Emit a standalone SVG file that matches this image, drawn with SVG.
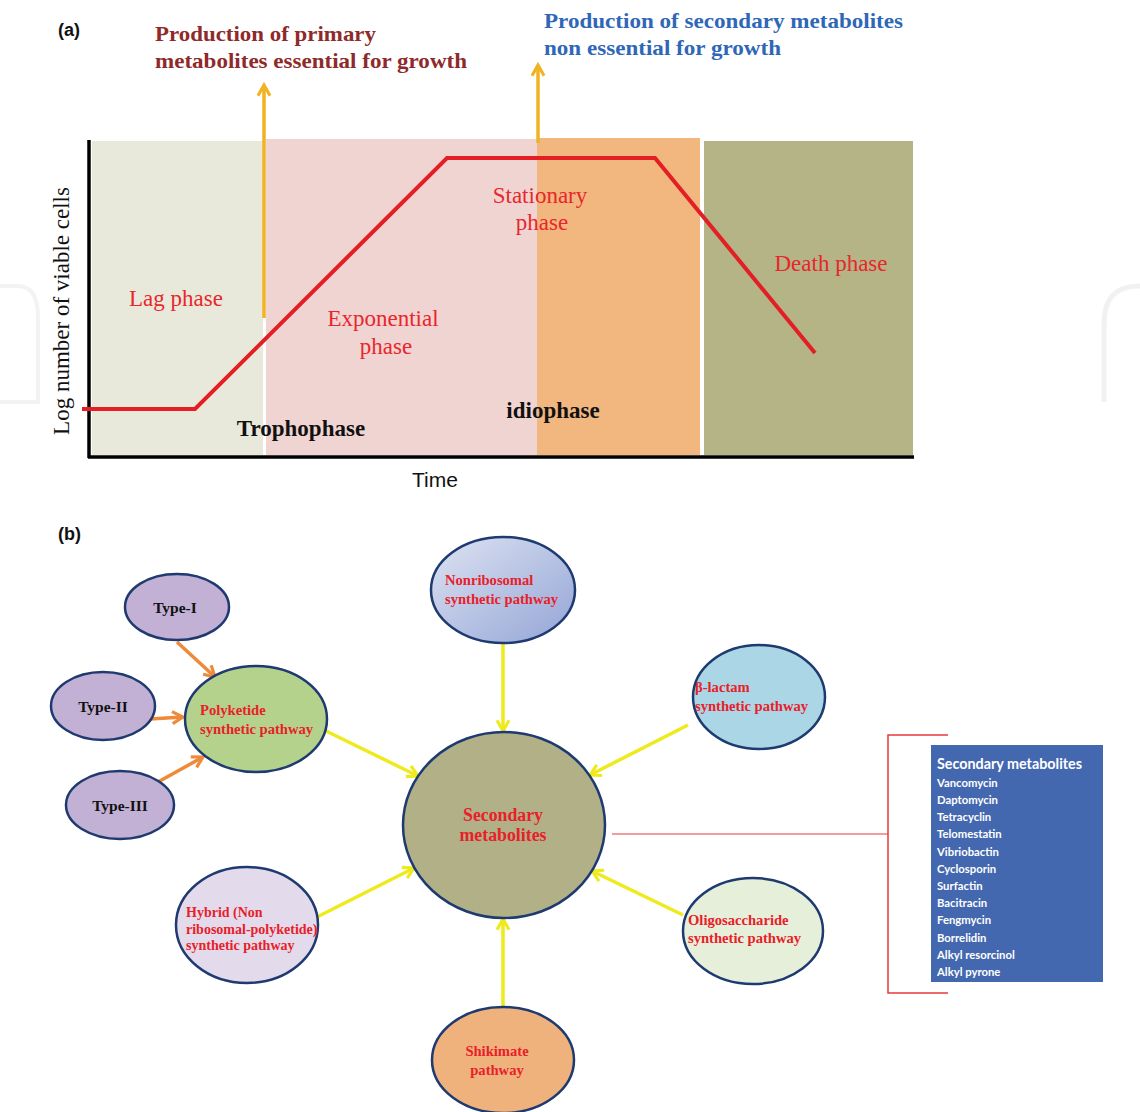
<svg xmlns="http://www.w3.org/2000/svg" width="1140" height="1112" viewBox="0 0 1140 1112">
<defs>
<style>
.lbl{font-family:"Liberation Sans",Arial,sans-serif;font-weight:bold;font-size:18px;fill:#111}
.ph{font-family:"Liberation Serif","Times New Roman",serif;font-size:23px;fill:#E8262C}
.bk{font-family:"Liberation Serif","Times New Roman",serif;font-size:23px;font-weight:bold;fill:#111}
.tt{font-family:"Liberation Serif","Times New Roman",serif;font-size:22px;font-weight:bold}
.nd{stroke:#1E3A70;stroke-width:2.5}
.nt{font-family:"Liberation Serif","Times New Roman",serif;font-size:14.6px;font-weight:bold;fill:#E8202A}
.sm{font-size:14px}
.big{font-size:18.5px}
.ty{font-family:"Liberation Serif","Times New Roman",serif;font-size:15.5px;font-weight:bold;fill:#111;text-anchor:middle}
.yl{stroke:#EEEA1E;stroke-width:3.5;fill:none}
.or{stroke:#EE8A3A;stroke-width:3.5;fill:none}
.bx{font-family:Lato,"Open Sans",sans-serif;font-weight:bold;fill:#fff;font-size:11.3px}
.bh{font-size:14.5px}
</style>
<marker id="my" viewBox="0 0 12 12" refX="10" refY="6" markerWidth="16" markerHeight="16" markerUnits="userSpaceOnUse" orient="auto"><path d="M2,1.5 L10,6 L2,10.5" fill="none" stroke="#EEEA1E" stroke-width="2.4"/></marker>
<marker id="mo" viewBox="0 0 12 12" refX="10" refY="6" markerWidth="16" markerHeight="16" markerUnits="userSpaceOnUse" orient="auto"><path d="M2,1.5 L10,6 L2,10.5" fill="none" stroke="#EE8A3A" stroke-width="2.4"/></marker>
<marker id="ma" viewBox="0 0 12 12" refX="10" refY="6" markerWidth="16" markerHeight="16" markerUnits="userSpaceOnUse" orient="auto"><path d="M2,1.5 L10,6 L2,10.5" fill="none" stroke="#F0B323" stroke-width="2.4"/></marker>
<linearGradient id="gnr" x1="0" y1="0" x2="1" y2="1"><stop offset="0" stop-color="#DDE3F2"/><stop offset="1" stop-color="#94A5D6"/></linearGradient>
</defs>
<rect width="1140" height="1112" fill="#fff"/>

<!-- faint watermark shapes -->
<path d="M1140,286 C1115,286 1104,298 1104,325 L1104,402" fill="none" stroke="#F1F1F1" stroke-width="5"/>
<path d="M0,286 L18,286 C32,286 38,298 38,318 L38,402 L0,402" fill="none" stroke="#F3F3F3" stroke-width="4"/>

<!-- Panel (a) -->
<g id="panel-a">
<text class="lbl" x="58" y="36">(a)</text>
<rect x="92" y="141" width="171" height="314" fill="#E8E9DB"/>
<rect x="266" y="139" width="271" height="316" fill="#F0D4D1"/>
<rect x="537" y="138" width="163" height="317" fill="#F1B77F"/>
<rect x="704" y="141" width="209" height="314" fill="#B4B487"/>
<line x1="89" y1="140" x2="89" y2="458" stroke="#000" stroke-width="3.5"/>
<line x1="88" y1="457" x2="914" y2="457" stroke="#000" stroke-width="3.5"/>
<polyline points="82,409 195,409 447,158 655,158 815,353" fill="none" stroke="#E31E24" stroke-width="4"/>
<line x1="264" y1="318" x2="264" y2="85" stroke="#F0B323" stroke-width="3.5" marker-end="url(#ma)"/>
<line x1="538" y1="143" x2="538" y2="65" stroke="#F0B323" stroke-width="3.5" marker-end="url(#ma)"/>
<text class="tt" fill="#8E2A2A" x="155" y="41" textLength="221" lengthAdjust="spacingAndGlyphs">Production of primary</text>
<text class="tt" fill="#8E2A2A" x="155" y="68" textLength="312" lengthAdjust="spacingAndGlyphs">metabolites essential for growth</text>
<text class="tt" fill="#2F67B8" x="544" y="28" textLength="359" lengthAdjust="spacingAndGlyphs">Production of secondary metabolites</text>
<text class="tt" fill="#2F67B8" x="544" y="55" textLength="237" lengthAdjust="spacingAndGlyphs">non essential for growth</text>
<text class="ph" x="176" y="306" text-anchor="middle">Lag phase</text>
<text class="ph" x="383" y="326" text-anchor="middle">Exponential</text>
<text class="ph" x="386" y="354" text-anchor="middle">phase</text>
<text class="ph" x="540" y="203" text-anchor="middle">Stationary</text>
<text class="ph" x="542" y="230" text-anchor="middle">phase</text>
<text class="ph" x="831" y="271" text-anchor="middle">Death phase</text>
<text class="bk" x="301" y="436" text-anchor="middle">Trophophase</text>
<text class="bk" x="553" y="418" text-anchor="middle">idiophase</text>
<text x="435" y="487" text-anchor="middle" font-family="Liberation Sans,Arial,sans-serif" font-size="21" fill="#111">Time</text>
<text transform="translate(69,311) rotate(-90)" text-anchor="middle" font-family="Liberation Serif,Times New Roman,serif" font-size="23" fill="#111">Log number of viable cells</text>
</g>

<!-- Panel (b) -->
<text class="lbl" x="58" y="540">(b)</text>

<g id="connectors">
<line class="or" x1="177" y1="642" x2="215" y2="677" marker-end="url(#mo)"/>
<line class="or" x1="150" y1="719" x2="183" y2="717" marker-end="url(#mo)"/>
<line class="or" x1="158" y1="782" x2="203" y2="757" marker-end="url(#mo)"/>
<line class="yl" x1="326" y1="731" x2="418" y2="776" marker-end="url(#my)"/>
<line class="yl" x1="503" y1="642" x2="503" y2="731" marker-end="url(#my)"/>
<line class="yl" x1="688" y1="725" x2="590" y2="775" marker-end="url(#my)"/>
<line class="yl" x1="317" y1="917" x2="414" y2="868" marker-end="url(#my)"/>
<line class="yl" x1="683" y1="915" x2="592" y2="871" marker-end="url(#my)"/>
<line class="yl" x1="503" y1="1007" x2="503" y2="919" marker-end="url(#my)"/>
<polyline points="612,834 888,834" fill="none" stroke="#E8383C" stroke-width="1.2"/>
<polyline points="948,735 888,735 888,993 948,993" fill="none" stroke="#E8383C" stroke-width="1.5"/>
</g>

<g id="type-i"><ellipse class="nd" cx="177" cy="607" rx="52" ry="33" fill="#C2B0D5"/><text class="ty" x="175" y="613">Type-I</text></g>
<g id="type-ii"><ellipse class="nd" cx="103" cy="706" rx="52" ry="34" fill="#C2B0D5"/><text class="ty" x="103" y="712">Type-II</text></g>
<g id="type-iii"><ellipse class="nd" cx="120" cy="805" rx="54" ry="34" fill="#C2B0D5"/><text class="ty" x="120" y="811">Type-III</text></g>
<g id="polyketide"><ellipse class="nd" cx="256" cy="719" rx="71" ry="53" fill="#B4D28C"/><text class="nt" x="200" y="715">Polyketide</text><text class="nt" x="200" y="734">synthetic pathway</text></g>
<g id="nonribosomal"><ellipse class="nd" cx="503" cy="590" rx="72" ry="53" fill="url(#gnr)"/><text class="nt" x="445" y="585">Nonribosomal</text><text class="nt" x="445" y="604">synthetic pathway</text></g>
<g id="beta-lactam"><ellipse class="nd" cx="759" cy="697" rx="66" ry="52" fill="#ABD6E5"/><text class="nt" x="695" y="692">β-lactam</text><text class="nt" x="695" y="711">synthetic pathway</text></g>
<g id="secondary"><ellipse class="nd" cx="504" cy="825" rx="101" ry="93" fill="#B1B087"/><text class="nt big" x="503" y="821" text-anchor="middle" textLength="80" lengthAdjust="spacingAndGlyphs">Secondary</text><text class="nt big" x="503" y="841" text-anchor="middle" textLength="87" lengthAdjust="spacingAndGlyphs">metabolites</text></g>
<g id="hybrid"><ellipse class="nd" cx="247" cy="925" rx="71" ry="58" fill="#E3DBEB"/><text class="nt sm" x="186" y="917">Hybrid (Non</text><text class="nt sm" x="186" y="934">ribosomal-polyketide)</text><text class="nt sm" x="186" y="950">synthetic pathway</text></g>
<g id="oligosaccharide"><ellipse class="nd" cx="753" cy="931" rx="70" ry="53" fill="#E6EFD9"/><text class="nt" x="688" y="925">Oligosaccharide</text><text class="nt" x="688" y="943">synthetic pathway</text></g>
<g id="shikimate"><ellipse class="nd" cx="503" cy="1060" rx="71" ry="53" fill="#F0B27D"/><text class="nt" x="497" y="1056" text-anchor="middle">Shikimate</text><text class="nt" x="497" y="1075" text-anchor="middle">pathway</text></g>

<g id="metabolite-list">
<rect x="931" y="745" width="172" height="237" fill="#4468B0"/>
<text class="bx bh" x="937" y="769" textLength="145" lengthAdjust="spacingAndGlyphs">Secondary metabolites</text>
<text class="bx" x="937" y="787">Vancomycin</text>
<text class="bx" x="937" y="804">Daptomycin</text>
<text class="bx" x="937" y="821">Tetracyclin</text>
<text class="bx" x="937" y="838">Telomestatin</text>
<text class="bx" x="937" y="856">Vibriobactin</text>
<text class="bx" x="937" y="873">Cyclosporin</text>
<text class="bx" x="937" y="890">Surfactin</text>
<text class="bx" x="937" y="907">Bacitracin</text>
<text class="bx" x="937" y="924">Fengmycin</text>
<text class="bx" x="937" y="942">Borrelidin</text>
<text class="bx" x="937" y="959">Alkyl resorcinol</text>
<text class="bx" x="937" y="976">Alkyl pyrone</text>
</g>
</svg>
